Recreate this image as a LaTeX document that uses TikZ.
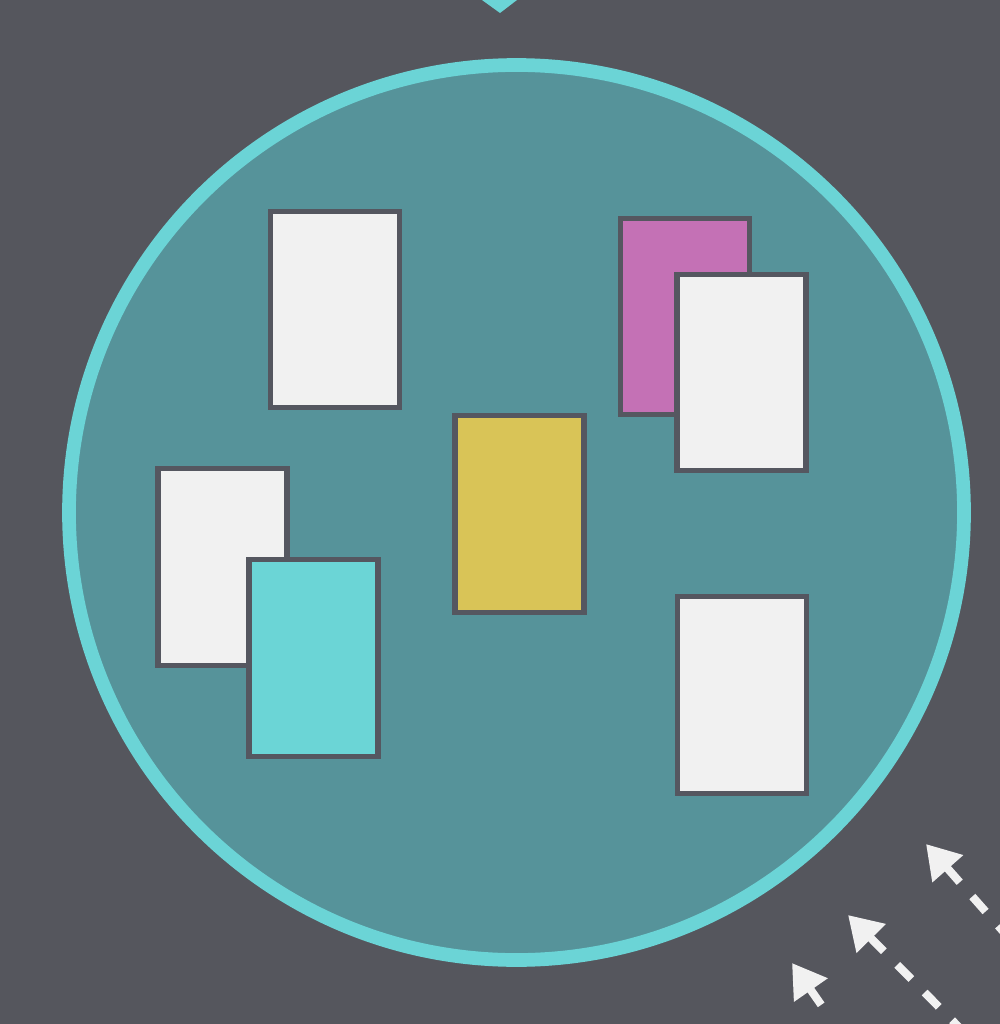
\documentclass[tikz,border=0pt]{standalone}
\usetikzlibrary{arrows.meta}
\definecolor{bggray}{HTML}{55565D}
\definecolor{poolfill}{HTML}{56939A}
\definecolor{poolline}{HTML}{6BD4D6}
\definecolor{cardline}{HTML}{555760}
\definecolor{cardwhite}{HTML}{F1F1F1}
\definecolor{cardpink}{HTML}{C471B5}
\definecolor{cardyellow}{HTML}{D9C457}
\definecolor{cardcyan}{HTML}{6BD5D6}
\tikzset{
  card/.style={draw=cardline,line width=1.45pt,minimum width=1.29cm,minimum height=1.96cm,inner sep=0pt},
  incoming/.style={draw=cardwhite,line width=2.3pt,dash pattern=on 0.2cm off 0.19cm,
    {Triangle[length=0.33cm,width=0.39cm]}-}
}
\begin{document}
\begin{tikzpicture}[x=0.01cm,y=-0.01cm]
  \useasboundingbox (0,0) rectangle (1000,1024);
  \clip (0,0) rectangle (1000,1024);
  \fill[color=bggray] (0,0) rectangle (1000,1024);
  % marker at the top
  \fill[color=poolline] (482,0) -- (517,0) -- (500,13) -- cycle;
  % the pool
  \draw[fill=poolfill,draw=poolline,line width=3.9pt] (516.5,512.5) circle (447.5);
  % cards
  \node[card,fill=cardwhite] (topleft) at (335,309.5) {};
  \node[card,fill=cardpink] (pink) at (685,316.5) {};
  \node[card,fill=cardwhite] (overpink) at (741.5,372.5) {};
  \node[card,fill=cardyellow] (middle) at (519.5,514) {};
  \node[card,fill=cardwhite] (left) at (222.5,567) {};
  \node[card,fill=cardcyan] (cyan) at (313.5,658) {};
  \node[card,fill=cardwhite] (lowright) at (742,695) {};
  % incoming arrows
  \coordinate (tipa) at (926,844);
  \coordinate (taila) at (1091,1031);
  \coordinate (tipb) at (848,915);
  \coordinate (tailb) at (1023,1092);
  \coordinate (tipc) at (792,963);
  \coordinate (tailc) at (822,1006);
  \draw[incoming] (tipa) -- (taila);
  \draw[incoming] (tipb) -- (tailb);
  \draw[incoming] (tipc) -- (tailc);
\end{tikzpicture}
\end{document}
